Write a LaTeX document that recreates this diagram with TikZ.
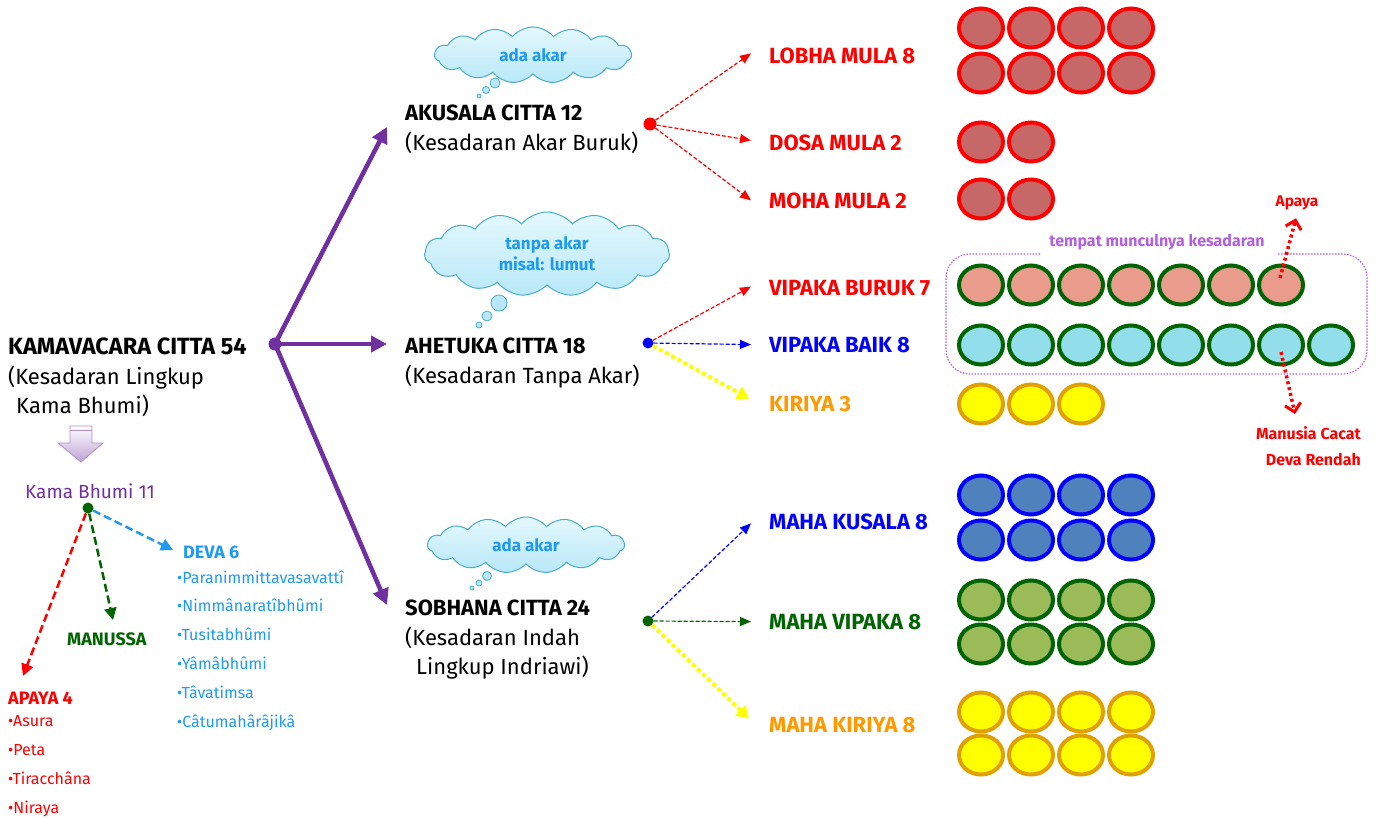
\documentclass[tikz,border=0pt]{standalone}
\usepackage{fontspec}
\setmainfont{Fira Sans}
\usetikzlibrary{arrows.meta,shapes.symbols,shapes.geometric,positioning}

\definecolor{ungu}{HTML}{7030A0}
\definecolor{ungumuda}{HTML}{B060E0}
\definecolor{merah}{HTML}{FF0000}
\definecolor{biru}{HTML}{0000FF}
\definecolor{langit}{HTML}{1E9BF0}
\definecolor{hijau}{HTML}{006400}
\definecolor{oranye}{HTML}{FF9900}
\definecolor{kuning}{HTML}{FFFF00}
\definecolor{emas}{HTML}{E0A000}
\definecolor{awanatas}{HTML}{E4F8FD}
\definecolor{awanbawah}{HTML}{B8E8F8}
\definecolor{awangaris}{HTML}{4BACC6}
\definecolor{isimerah}{HTML}{C66868}
\definecolor{isisalmon}{HTML}{E99C8C}
\definecolor{isitosca}{HTML}{92DEEA}
\definecolor{isibiru}{HTML}{4F81BD}
\definecolor{isihijau}{HTML}{9BBB59}

\begin{document}
\begin{tikzpicture}[x=1pt,y=-1pt,
    every node/.style={inner sep=0pt},
    judul/.style={anchor=north west, align=left, font=\fontsize{22}{29.5}\selectfont},
    cabang/.style={anchor=base west, font=\bfseries\fontsize{22}{26}\selectfont},
    titik/.style={circle, minimum size=13pt},
    awan/.style={cloud, cloud puffs=15, cloud puff arc=100, cloud ignores aspect, draw=awangaris, line width=1pt,
        top color=awanatas, bottom color=awanbawah, text=langit, align=center,
        font=\bfseries\fontsize{17}{21}\selectfont},
    gelembung/.style={draw=awangaris, line width=0.8pt, fill=awanbawah},
    panahungu/.style={line width=4.5pt, ungu, -{Triangle[length=16pt,width=16pt]}},
    garis/.style={line width=1.2pt, dash pattern=on 4pt off 2pt, -{Triangle[length=11pt,width=9pt]}},
    garistebal/.style={line width=4pt, kuning, dash pattern=on 4pt off 3pt, -{Triangle[length=12pt,width=14pt]}},
    gariskiri/.style={line width=2.5pt, dash pattern=on 8pt off 4pt, -{Triangle[length=12pt,width=12pt]}},
    garistitik/.style={line width=3.5pt, merah, dash pattern=on 3pt off 3pt, -{Straight Barb[length=8pt,width=16pt,line width=3pt]}},
    bola/.style={line width=4pt}
  ]
  \useasboundingbox (0,0) rectangle (1379,819);

  % Judul utama
  \node[judul] (kama) at (8,338) {{\bfseries\fontsize{23.5}{29.5}\selectfont KAMAVACARA CITTA 54}\\(Kesadaran Lingkup\\\hspace*{8pt}Kama Bhumi)};
  \node[titik, fill=ungu] (pusat) at (275,344) {};

  % Tiga kelompok citta
  \node[judul] (akusala) at (405,105) {\textbf{AKUSALA CITTA 12}\\(Kesadaran Akar Buruk)};
  \node[judul] (ahetuka) at (405,338) {\textbf{AHETUKA CITTA 18}\\(Kesadaran Tanpa Akar)};
  \node[judul] (sobhana) at (405,600) {\textbf{SOBHANA CITTA 24}\\(Kesadaran Indah\\\hspace*{11pt}Lingkup Indriawi)};

  \coordinate (ujungA) at (387,127);
  \coordinate (ujungB) at (387,344);
  \coordinate (ujungC) at (387,605);
  \draw[panahungu] (pusat.center) -- (ujungA);
  \draw[panahungu] (pusat.center) -- (ujungB);
  \draw[panahungu] (pusat.center) -- (ujungC);

  % Awan
  \node[awan, minimum width=197pt, minimum height=56pt] (awanA) at (533,55) {ada akar};
  \draw[gelembung] (495,83) circle [radius=5pt];
  \draw[gelembung] (486,90) circle [radius=3.5pt];
  \draw[gelembung] (479,96) circle [radius=2pt];

  \node[awan, minimum width=245pt, minimum height=84pt] (awanB) at (547,254) {tanpa akar\\misal: lumut};
  \draw[gelembung] (499,303) circle [radius=8pt];
  \draw[gelembung] (487,316) circle [radius=5pt];
  \draw[gelembung] (479,325) circle [radius=3pt];

  \node[awan, minimum width=197pt, minimum height=56pt] (awanC) at (526,545) {ada akar};
  \draw[gelembung] (487,576) circle [radius=4.5pt];
  \draw[gelembung] (479,583) circle [radius=3pt];
  \draw[gelembung] (472,588) circle [radius=2pt];

  % Titik percabangan
  \node[titik, fill=merah] (tA) at (650,124) {};
  \node[titik, fill=biru, minimum size=11pt] (tB) at (648,343) {};
  \node[titik, fill=hijau, minimum size=11pt] (tC) at (648,621) {};

  % Label cabang
  \node[cabang, text=merah] (lobha) at (769,63) {LOBHA MULA 8};
  \node[cabang, text=merah] (dosa) at (769,150) {DOSA MULA 2};
  \node[cabang, text=merah] (moha) at (769,208) {MOHA MULA 2};
  \node[cabang, text=merah] (buruk) at (769,295) {VIPAKA BURUK 7};
  \node[cabang, text=biru] (baik) at (769,352) {VIPAKA BAIK 8};
  \node[cabang, text=oranye] (kiriya) at (769,411) {KIRIYA 3};
  \node[cabang, text=biru] (mkusala) at (769,529) {MAHA KUSALA 8};
  \node[cabang, text=hijau] (mvipaka) at (769,629) {MAHA VIPAKA 8};
  \node[cabang, text=oranye] (mkiriya) at (769,732) {MAHA KIRIYA 8};

  \draw[garis, merah] (tA) -- ([xshift=-18pt,yshift=2pt]lobha.west);
  \draw[garis, merah] (tA) -- ([xshift=-18pt,yshift=2pt]dosa.west);
  \draw[garis, merah] (tA) -- ([xshift=-18pt]moha.west);
  \draw[garis, merah] (tB) -- ([xshift=-18pt,yshift=1pt]buruk.west);
  \draw[garis, biru] (tB) -- ([xshift=-18pt]baik.west);
  \draw[garistebal] (tB) -- ([xshift=-20pt,yshift=5pt]kiriya.west);
  \draw[garis, biru] (tC) -- ([xshift=-18pt,yshift=-2pt]mkusala.west);
  \draw[garis, hijau] (tC) -- ([xshift=-18pt]mvipaka.west);
  \draw[garistebal] (tC) -- ([xshift=-20pt,yshift=6pt]mkiriya.west);

  % Bola-bola citta
  \foreach \y in {28,73}
    \foreach \c in {0,...,3}
      \draw[bola, draw=merah, fill=isimerah] ({981+50*\c},\y) ellipse [x radius=22pt, y radius=19.5pt];
  \foreach \y in {142,199}
    \foreach \c in {0,1}
      \draw[bola, draw=merah, fill=isimerah] ({981+50*\c},\y) ellipse [x radius=22pt, y radius=19.5pt];
  \foreach \c in {0,...,6}
    \draw[bola, draw=hijau, fill=isisalmon] ({981+50*\c},285) ellipse [x radius=22pt, y radius=19.5pt];
  \foreach \c in {0,...,7}
    \draw[bola, draw=hijau, fill=isitosca] ({981+50*\c},345) ellipse [x radius=22pt, y radius=19.5pt];
  \foreach \c in {0,...,2}
    \draw[bola, draw=emas, fill=kuning] ({981+50*\c},404) ellipse [x radius=22pt, y radius=19.5pt];
  \foreach \y in {495,540}
    \foreach \c in {0,...,3}
      \draw[bola, draw=biru, fill=isibiru] ({981+50*\c},\y) ellipse [x radius=22pt, y radius=19.5pt];
  \foreach \y in {600,644}
    \foreach \c in {0,...,3}
      \draw[bola, draw=hijau, fill=isihijau] ({981+50*\c},\y) ellipse [x radius=22pt, y radius=19.5pt];
  \foreach \y in {712,755}
    \foreach \c in {0,...,3}
      \draw[bola, draw=emas, fill=kuning] ({981+50*\c},\y) ellipse [x radius=22pt, y radius=19.5pt];

  % Kotak tempat munculnya kesadaran
  \draw[ungumuda, line width=1.2pt, dash pattern=on 1.5pt off 1.5pt, rounded corners=24pt]
    (1040,254) -- (946,254) -- (946,374) -- (1367,374) -- (1367,254) -- (1277,254);
  \node[text=ungumuda, font=\bfseries\fontsize{16}{19}\selectfont] (tempat) at (1157,242) {tempat munculnya kesadaran};

  \node[text=merah, font=\bfseries\fontsize{15.5}{18}\selectfont] (apaya) at (1297,203) {Apaya};
  \node[text=merah, font=\bfseries\fontsize{16}{19}\selectfont, anchor=east] (cacat) at (1361,433) {Manusia Cacat};
  \node[text=merah, font=\bfseries\fontsize{16}{19}\selectfont, anchor=east] (rendah) at (1361,460) {Deva Rendah};
  \coordinate (pangkalA) at (1280,278);
  \coordinate (pangkalB) at (1281,352);
  \draw[garistitik] (pangkalA) -- ([xshift=-1pt,yshift=-8pt]apaya.south);
  \draw[garistitik] (pangkalB) -- (1295,414);

  % Panah ke bawah
  \shade[top color=white, bottom color=ungu!45, draw=ungu!55, line width=0.8pt]
    (70,426) -- (92,426) -- (92,443) -- (103,443) -- (81,462) -- (58,443) -- (70,443) -- cycle;
  \draw[ungu!55, line width=1pt] (70,430) -- (92,430);

  % Kama Bhumi
  \node[text=ungu, font=\fontsize{19}{22}\selectfont] (bhumi) at (90,491) {Kama Bhumi 11};
  \node[circle, fill=hijau, minimum size=11pt] (tD) at (88,508) {};
  \node[anchor=base west, text=langit, font=\bfseries\fontsize{18}{20}\selectfont] (deva) at (183,558) {DEVA 6};
  \node[anchor=base west, text=hijau, font=\bfseries\fontsize{18}{20}\selectfont] (manussa) at (67,645) {MANUSSA};
  \node[anchor=base west, text=merah, font=\bfseries\fontsize{18}{20}\selectfont] (apayaempat) at (8,704) {APAYA 4};
  \coordinate (kDeva) at (173,550);
  \coordinate (kManussa) at (113,620);
  \coordinate (kApaya) at (23,676);
  \draw[gariskiri, merah] (tD) -- (kApaya);
  \draw[gariskiri, hijau] (tD) -- (kManussa);
  \draw[gariskiri, langit] (tD) -- (kDeva);

  \foreach \t [count=\i] in {Paranimmittavasavattî, Nimmânaratîbhûmi, Tusitabhûmi, Yâmâbhûmi, Tâvatimsa, Câtumahârâjikâ}
    \node[anchor=base west, text=langit, font=\fontsize{16}{18}\selectfont] (deva\i) at (177,{583+28.8*(\i-1)}) {•\t};
  \foreach \t [count=\i] in {Asura, Peta, Tiracchâna, Niraya}
    \node[anchor=base west, text=merah, font=\fontsize{16}{18}\selectfont] (apaya\i) at (8,{726+29.3*(\i-1)}) {•\t};
\end{tikzpicture}
\end{document}
